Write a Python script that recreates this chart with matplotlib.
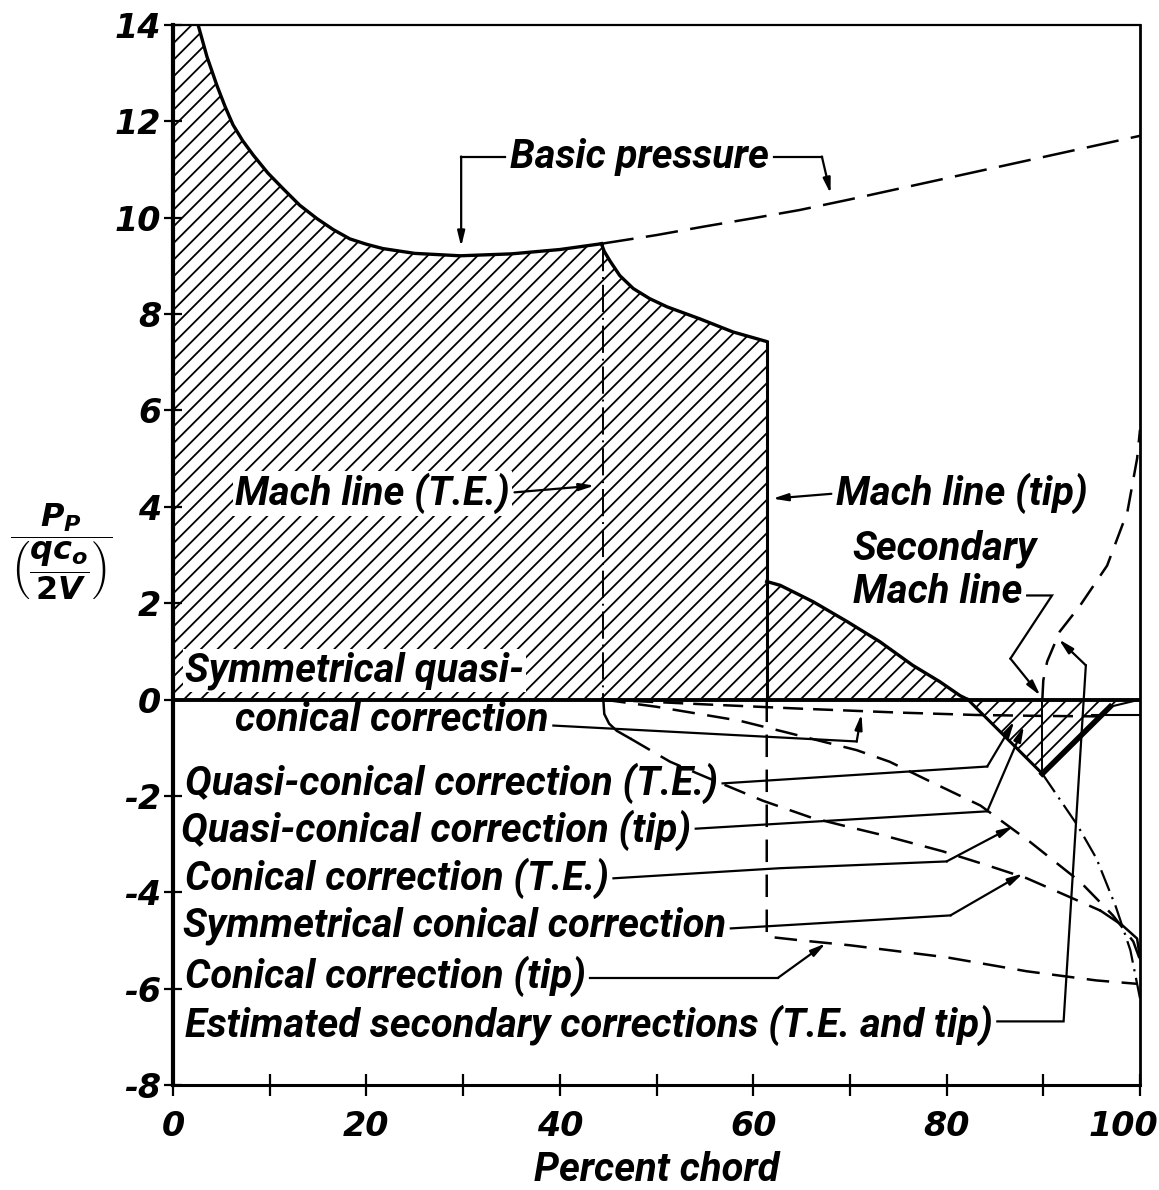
import numpy as np
import matplotlib
matplotlib.use('Agg')
import matplotlib.pyplot as plt
from matplotlib import font_manager
from matplotlib.transforms import ScaledTranslation

# ------------------------------------------------------------
# DATA
# ------------------------------------------------------------
# basic pressure, solid part up to the Mach line from the trailing edge
basic_x = [0, 1.3, 2.6, 3.5, 4.55, 5.4, 6.2, 7.2, 8.3, 9.8, 11.4, 13.1, 14.9, 16.6, 18.3,
           20.0, 21.7, 25.0, 29.7, 35.0, 40.0, 44.3]
basic_y = [16.0, 14.95, 14.0, 13.35, 12.74, 12.3, 11.93, 11.6, 11.3, 10.93, 10.6, 10.26, 9.98,
           9.75, 9.56, 9.45, 9.36, 9.26, 9.21, 9.25, 9.34, 9.46]
# basic pressure, dashed continuation
basic_ext_x = [44.3, 50, 55, 60, 64.8, 70, 75, 80, 85, 90, 95, 100]
basic_ext_y = [9.46, 9.64, 9.82, 9.99, 10.16, 10.38, 10.6, 10.82, 11.04, 11.26, 11.48, 11.7]
# net pressure behind the T.E. Mach line
drop_x = [44.3, 44.6, 45.2, 46.2, 47.6, 49.3, 51.1, 54.5, 57.9, 61.4]
drop_y = [9.46, 9.3, 9.1, 8.8, 8.53, 8.32, 8.15, 7.9, 7.63, 7.43]
# behind the tip Mach line
tail_x = [61.4, 62.8, 66.2, 69.7, 73.1, 76.5, 79.3, 81.4, 82.2]
tail_y = [2.45, 2.37, 2.03, 1.62, 1.2, 0.71, 0.37, 0.08, 0.0]
# negative lobe near the trailing edge
tri_x = [82.2, 89.9, 96.9, 100]
tri_y = [0, -1.54, -0.15, 0]

mach_te = 44.5
mach_tip = 61.4

# corrections (below zero)
sym_quasi_x = [44.5, 55, 65, 75, 83, 90, 96]
sym_quasi_y = [0, -0.1, -0.19, -0.27, -0.32, -0.34, -0.35]
conical_te_x = [44.5, 50, 58.6, 63.8, 70.7, 74.1, 78.3, 83.5, 88.6, 93.8, 97.2, 99.3, 100]
conical_te_y = [0, -0.15, -0.44, -0.7, -1.05, -1.29, -1.7, -2.2, -2.95, -3.78, -4.48, -5.02, -5.4]
sym_con_head_x = [44.5, 44.6, 45.1, 45.9, 47.3]
sym_con_head_y = [0, -0.3, -0.5, -0.65, -0.81]
sym_con_x = [47.3, 51.4, 55, 61, 66, 70, 73.1, 79.6, 84.2, 88.3, 92.4, 95.9]
sym_con_y = [-0.81, -1.29, -1.6, -2.1, -2.45, -2.65, -2.8, -3.15, -3.44, -3.71, -4.07, -4.38]
sym_con_end_x = [95.9, 98.2, 99.7, 100]
sym_con_end_y = [-4.38, -4.69, -4.96, -5.37]
conical_tip_x = [61.4, 61.4, 65, 70, 74, 80, 88.3, 95.5, 99.7]
conical_tip_y = [0, -4.92, -5.0, -5.1, -5.2, -5.35, -5.64, -5.83, -5.9]
# secondary Mach line
sec_mach_x = [89.9, 90.0, 90.4, 91.7, 93.8, 96.6, 98.7, 99.7, 100.0]
sec_mach_y = [0, 0.4, 0.79, 1.41, 1.95, 2.78, 3.9, 5.0, 5.6]
sec_low_x = [89.9, 93.5, 95.5, 97.5, 99.0, 100]
sec_low_y = [-1.54, -2.6, -3.3, -4.3, -5.2, -6.2]

x_ticks = np.arange(0, 101, 10)
x_labels = ['0', '', '20', '', '40', '', '60', '', '80', '', '100']
y_ticks = np.arange(-8, 15, 2)

LONG_LABEL = 'Estimated secondary corrections (T.E. and tip)'

# ------------------------------------------------------------
# style
# ------------------------------------------------------------
plt.rcParams['hatch.linewidth'] = 1.3
plt.rcParams['axes.unicode_minus'] = False
plt.rcParams['mathtext.fontset'] = 'custom'
plt.rcParams['mathtext.it'] = 'DejaVu Sans:italic:bold'
plt.rcParams['mathtext.rm'] = 'DejaVu Sans:bold'

names = {f.name for f in font_manager.fontManager.ttflist}
LETTER = 'Roboto' if 'Roboto' in names else 'DejaVu Sans'

fig = plt.figure(figsize=(11.59, 11.90), dpi=100)
ax = fig.add_axes([173 / 1159, 1 - 1085 / 1190, 967 / 1159, 1060 / 1190])
ax.set_xlim(0, 100)
ax.set_ylim(-8, 14)
renderer = fig.canvas.get_renderer()

# pick the lettering size so that the longest label spans ~808 px as in the scan
probe = fig.text(0, 0, LONG_LABEL, family=LETTER, style='italic', weight='bold', fontsize=26)
w = probe.get_window_extent(renderer).width
probe.remove()
FS = 26 * 808 / w
TXT = dict(family=LETTER, style='italic', weight='bold', fontsize=FS)

# hatched net pressure region
poly_x = np.concatenate([basic_x, drop_x[1:], tail_x, tri_x[1:], [0]])
poly_y = np.concatenate([basic_y, drop_y[1:], tail_y, tri_y[1:], [0]])
ax.fill(poly_x, poly_y, facecolor='none', edgecolor='k', hatch='//', linewidth=0, zorder=1)

# outlines
ax.plot(basic_x, basic_y, color='k', lw=2.4, zorder=3)
ax.plot(basic_ext_x, basic_ext_y, color='k', lw=1.8, ls=(0, (13, 5)), zorder=3)
ax.plot(drop_x, drop_y, color='k', lw=2.4, zorder=3)
ax.plot([mach_tip, mach_tip], [drop_y[-1], 0], color='k', lw=2.2, zorder=3)
ax.plot(tail_x, tail_y, color='k', lw=2.4, zorder=3)
ax.plot(tri_x[:2], tri_y[:2], color='k', lw=2.2, zorder=3)
ax.plot(tri_x[1:3], tri_y[1:3], color='k', lw=4.0, zorder=3)
ax.plot(tri_x[2:], tri_y[2:], color='k', lw=1.5, zorder=3)
ax.plot([95, 100], [-0.33, -0.33], color='k', lw=1.5, zorder=3)
ax.axhline(0, color='k', lw=2.8, zorder=4)
ax.plot([mach_te, mach_te], [drop_y[0], 0], color='k', lw=1.4, ls=(0, (14, 3, 1, 3)), zorder=3)

# correction curves
ax.plot(sym_quasi_x, sym_quasi_y, color='k', lw=1.8, ls=(0, (8, 4)), zorder=3)
ax.plot(conical_te_x, conical_te_y, color='k', lw=1.8, ls=(0, (9, 5)), zorder=3)
ax.plot(sym_con_head_x, sym_con_head_y, color='k', lw=1.8, zorder=3)
ax.plot(sym_con_x, sym_con_y, color='k', lw=1.8, ls=(0, (9, 5)), zorder=3)
ax.plot(sym_con_end_x, sym_con_end_y, color='k', lw=1.8, zorder=3)
ax.plot(conical_tip_x, conical_tip_y, color='k', lw=1.8, ls=(0, (9, 5)), zorder=3)
ax.plot(sec_mach_x, sec_mach_y, color='k', lw=1.8, ls=(0, (9, 5)), zorder=3)
ax.plot([sec_low_x[0], sec_low_x[0]], [0, sec_low_y[0]], color='k', lw=1.4, zorder=3)
ax.plot(sec_low_x, sec_low_y, color='k', lw=1.6, ls=(0, (10, 3, 1, 3)), zorder=3)

# ------------------------------------------------------------
# labels and leaders
# ------------------------------------------------------------
AP = dict(arrowstyle='-|>,head_length=0.9,head_width=0.22', color='k', lw=1.6,
          shrinkA=0, shrinkB=0)
to_data = ax.transData.inverted()


def label(x, y, s, ha='left', box=False):
    kw = dict(ha=ha, va='center', zorder=6, **TXT)
    if box:
        kw['bbox'] = dict(facecolor='white', edgecolor='none', pad=1.5)
    return ax.text(x, y, s, **kw)


def text_edge(t, side):
    """x (data) of the left or right end of a text, plus a small gap"""
    bb = t.get_window_extent(renderer)
    if side == 'right':
        return to_data.transform((bb.x1 + 5, 0))[0]
    return to_data.transform((bb.x0 - 5, 0))[0]


def leader(xs, ys, t=None, side='right'):
    """poly-line leader, arrowhead on the last segment; starts at the text end"""
    xs = list(xs)
    if t is not None:
        xs[0] = text_edge(t, side)
    ax.plot(xs[:-1], ys[:-1], color='k', lw=1.6, zorder=4, solid_joinstyle='miter')
    ax.annotate('', xy=(xs[-1], ys[-1]), xytext=(xs[-2], ys[-2]), arrowprops=AP, zorder=4)


t = label(48.2, 11.27, 'Basic pressure', ha='center')
leader([33.8, 29.8, 29.8], [11.27, 11.27, 9.4], t, 'left')
leader([62.5, 67.1, 68.0], [11.27, 11.27, 10.5], t)

t = label(6.4, 4.27, 'Mach line (T.E.)', box=True)
leader([36.3, 43.6], [4.3, 4.44], t)
t = label(68.6, 4.27, 'Mach line (tip)')
leader([67.9, 62.0], [4.27, 4.17], t, 'left')
label(70.3, 3.13, 'Secondary')
t = label(70.3, 2.24, 'Mach line')
leader([88.3, 90.9, 86.6, 89.7], [2.16, 2.16, 0.85, 0.08], t)

label(1.2, 0.6, 'Symmetrical quasi-', box=True)
t = label(6.4, -0.43, 'conical correction')
leader([36.4, 70.7, 71.2], [-0.54, -0.87, -0.3], t)
t = label(1.2, -1.74, 'Quasi-conical correction (T.E.)')
leader([52.7, 84.2, 87.0], [-1.74, -1.39, -0.45], t)
t = label(0.8, -2.72, 'Quasi-conical correction (tip)')
leader([52.3, 84.2, 88.0], [-2.68, -2.32, -0.55], t)
t = label(1.2, -3.71, 'Conical correction (T.E.)')
leader([45.7, 62.8, 80.0, 86.9], [-3.71, -3.5, -3.36, -2.63], t)
t = label(1.0, -4.69, 'Symmetrical conical correction')
leader([55.7, 62.8, 80.4, 87.9], [-4.75, -4.69, -4.48, -3.61], t)
t = label(1.2, -5.75, 'Conical correction (tip)')
leader([44.2, 62.6, 67.5], [-5.77, -5.77, -5.06], t)
t = label(1.2, -6.76, LONG_LABEL)
leader([85.2, 92.1, 94.4, 91.6], [-6.68, -6.68, 0.71, 1.25], t)

# ------------------------------------------------------------
# axes styling
# ------------------------------------------------------------
ax.set_xticks(x_ticks)
ax.set_xticklabels(x_labels)
ax.set_yticks(y_ticks)
ax.tick_params(axis='both', direction='inout', width=1.6, color='k')
ax.tick_params(axis='x', length=16, pad=10)
ax.tick_params(axis='y', length=13, pad=2)
for lab in ax.get_xticklabels() + ax.get_yticklabels():
    lab.set_fontfamily('DejaVu Sans')
    lab.set_fontstyle('oblique')
    lab.set_fontweight('bold')
    lab.set_fontsize(24)
last = ax.get_xticklabels()[-1]
last.set_transform(last.get_transform() + ScaledTranslation(-0.17, 0, fig.dpi_scale_trans))

ax.spines['left'].set_linewidth(3.0)
ax.spines['bottom'].set_linewidth(2.2)
ax.spines['top'].set_linewidth(1.6)
ax.spines['right'].set_linewidth(2.0)

ax.set_xlabel('Percent chord', labelpad=6, **TXT)
fig.text(61 / 1159, 1 - 552 / 1190, r'$\dfrac{P_P}{\left(\dfrac{qc_o}{2V}\right)}$',
         ha='center', va='center', fontsize=23)

fig.savefig('out.png', dpi=100)
